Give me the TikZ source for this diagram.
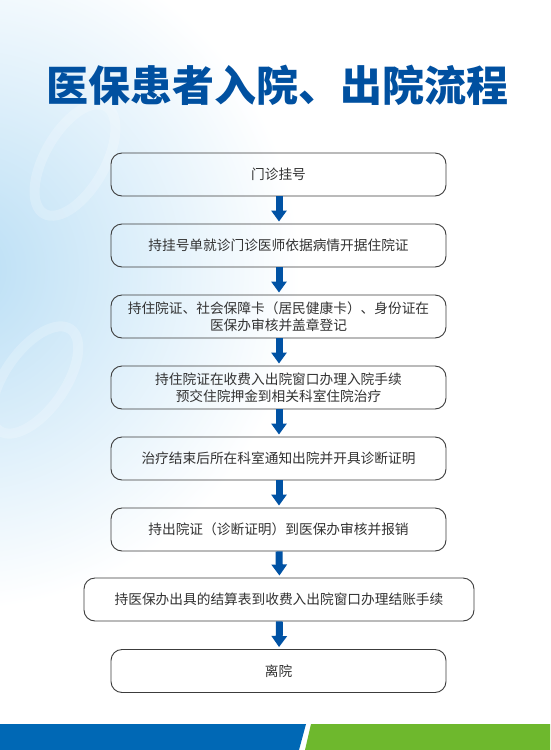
\documentclass[tikz,border=0pt]{standalone}
\usepackage{fontspec}
\setmainfont{Noto Sans CJK SC}
\newfontfamily\cjk{Noto Sans CJK SC}
\usetikzlibrary{arrows.meta}
\definecolor{titleblue}{RGB}{0,80,160}
\definecolor{arrowblue}{RGB}{0,82,164}
\definecolor{bandblue}{RGB}{0,104,181}
\definecolor{bandgreen}{RGB}{110,184,45}
\definecolor{skyblue}{RGB}{185,222,245}
\definecolor{boxline}{RGB}{60,60,60}
\definecolor{textgray}{RGB}{50,50,50}
\tikzset{
  stepbox/.style={draw=boxline, line width=0.9pt, rounded corners=11pt, minimum height=43pt, text=textgray, font=\cjk\fontsize{13.7}{17}\selectfont, align=center, inner sep=0pt},
  flowarrow/.style={draw=arrowblue, line width=7pt, -{Triangle[width=15pt,length=11pt]}, shorten >=2pt}
}
\begin{document}
\begin{tikzpicture}[x=1pt,y=-1pt]
\useasboundingbox (0,0) rectangle (550,750);
\fill[white] (0,0) rectangle (550,750);
\begin{scope}
\clip (0,0) rectangle (550,724);
\shade[inner color=skyblue, outer color=white] (-40,270) circle (340);
\foreach \cx/\cy/\r in {75/160/-30, 35/380/-35, 30/640/-25}{
  \draw[white, line width=10pt, opacity=0.22, rotate around={\r:(\cx,\cy)}] (\cx,\cy) ellipse (30 and 62);
}
\end{scope}
\fill[bandblue] (0,724) -- (306,724) -- (299,750) -- (0,750) -- cycle;
\fill[bandgreen] (311,724) -- (550,724) -- (550,750) -- (305,750) -- cycle;
\node[font=\cjk\bfseries\fontsize{42}{45}\selectfont, text=titleblue] (title) at (277.5,85) {医保患者入院、出院流程};
\node[stepbox, minimum width=335pt] (s1) at (278.5,174.5) {门诊挂号};
\node[stepbox, minimum width=335pt] (s2) at (278.5,245.5) {持挂号单就诊门诊医师依据病情开据住院证};
\node[stepbox, minimum width=335pt] (s3) at (278.5,316.5) {持住院证、社会保障卡（居民健康卡）、身份证在\\医保办审核并盖章登记};
\node[stepbox, minimum width=335pt] (s4) at (278.5,387.5) {持住院证在收费入出院窗口办理入院手续\\预交住院押金到相关科室住院治疗};
\node[stepbox, minimum width=335pt] (s5) at (278.5,458.5) {治疗结束后所在科室通知出院并开具诊断证明};
\node[stepbox, minimum width=335pt] (s6) at (278.5,529.5) {持出院证（诊断证明）到医保办审核并报销};
\node[stepbox, minimum width=390pt] (s7) at (279,599.5) {持医保办出具的结算表到收费入出院窗口办理结账手续};
\node[stepbox, minimum width=335pt] (s8) at (278.5,671) {离院};
\foreach \a/\b in {s1/s2,s2/s3,s3/s4,s4/s5,s5/s6,s6/s7,s7/s8}{
  \draw[flowarrow] ([xshift=0.5pt]\a.south) -- ([xshift=0.5pt]\b.north);
}
\end{tikzpicture}
\end{document}
